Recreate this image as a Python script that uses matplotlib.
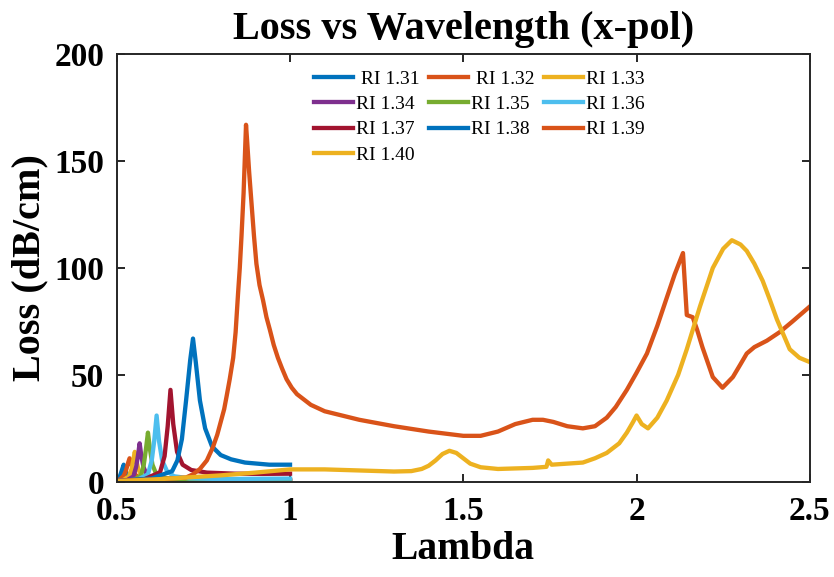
import matplotlib.pyplot as plt

plt.rcParams['font.family'] = ['Liberation Serif', 'DejaVu Serif']

colors = ['#0072BD', '#D95319', '#EDB120', '#7E2F8E', '#77AC30', '#4DBEEE', '#A2142F',
          '#0072BD', '#D95319', '#EDB120']
labels = [' RI 1.31', ' RI 1.32', 'RI 1.33', 'RI 1.34', 'RI 1.35', 'RI 1.36', 'RI 1.37',
          'RI 1.38', 'RI 1.39', 'RI 1.40']

# wavelength (um) and confinement loss (dB/cm) for each analyte index
lam_131 = [0.50, 0.505, 0.51, 0.515, 0.52, 0.525, 0.53, 0.54, 0.56, 0.60, 0.70, 0.80, 0.90, 1.00]
loss_131 = [0.8, 1.5, 3.0, 5.5, 8.0, 5.5, 3.2, 1.8, 1.0, 0.6, 0.4, 0.3, 0.3, 0.3]

lam_132 = [0.50, 0.51, 0.52, 0.527, 0.533, 0.537, 0.541, 0.547, 0.555, 0.57, 0.60, 0.70, 0.85, 1.00]
loss_132 = [0.5, 1.2, 2.8, 5.5, 9.0, 11.0, 9.0, 5.5, 3.0, 1.6, 0.9, 0.6, 0.5, 0.5]

lam_133 = [0.50, 0.52, 0.535, 0.543, 0.548, 0.552, 0.556, 0.562, 0.57, 0.585, 0.62, 0.70, 0.85, 1.00]
loss_133 = [0.3, 0.9, 2.5, 6.0, 10.5, 14.0, 10.5, 6.0, 3.2, 1.7, 0.9, 0.6, 0.5, 0.5]

lam_134 = [0.50, 0.53, 0.548, 0.556, 0.561, 0.566, 0.571, 0.577, 0.586, 0.60, 0.64, 0.72, 0.85, 1.00]
loss_134 = [0.3, 0.8, 2.5, 7.0, 12.0, 18.0, 12.0, 7.0, 3.5, 1.8, 1.0, 0.7, 0.7, 0.8]

lam_135 = [0.50, 0.55, 0.57, 0.578, 0.584, 0.59, 0.596, 0.603, 0.613, 0.63, 0.67, 0.75, 0.88, 1.00]
loss_135 = [0.3, 0.9, 3.0, 8.0, 15.0, 23.0, 15.0, 8.0, 4.0, 2.0, 1.2, 0.9, 0.9, 1.0]

lam_136 = [0.50, 0.56, 0.59, 0.601, 0.608, 0.615, 0.622, 0.631, 0.645, 0.665, 0.71, 0.80, 0.90, 1.00]
loss_136 = [0.3, 1.0, 3.5, 10.0, 19.0, 31.0, 19.0, 10.0, 5.0, 2.6, 1.6, 1.3, 1.4, 1.5]

lam_137 = [0.50, 0.58, 0.625, 0.638, 0.647, 0.655, 0.663, 0.674, 0.69, 0.715, 0.76, 0.84, 0.92, 1.00]
loss_137 = [0.3, 1.2, 4.5, 12.0, 26.0, 43.0, 27.0, 14.0, 8.0, 5.5, 4.3, 3.8, 3.7, 3.8]

lam_138 = [0.50, 0.60, 0.66, 0.675, 0.688, 0.70, 0.712, 0.72, 0.728, 0.74, 0.755, 0.775, 0.80,
           0.83, 0.87, 0.94, 1.00]
loss_138 = [0.4, 1.5, 5.0, 10.0, 20.0, 38.0, 57.0, 67.0, 56.0, 38.0, 25.0, 16.5, 12.5,
            10.5, 9.0, 8.0, 8.0]

lam_139 = [0.50, 0.60, 0.70, 0.72, 0.74, 0.76, 0.777, 0.79, 0.80, 0.81, 0.817, 0.826, 0.836,
           0.843, 0.85, 0.855, 0.86, 0.866, 0.873, 0.876, 0.882, 0.889, 0.896, 0.903, 0.912,
           0.922, 0.932, 0.942, 0.953, 0.965, 0.977, 0.99, 1.005, 1.02, 1.04, 1.06, 1.08,
           1.10, 1.15, 1.20, 1.30, 1.40, 1.50, 1.55, 1.60, 1.65, 1.70, 1.73, 1.76, 1.80,
           1.845, 1.88, 1.914, 1.94, 1.972, 2.00, 2.03, 2.06, 2.087, 2.11, 2.134, 2.145,
           2.162, 2.175, 2.19, 2.22, 2.248, 2.278, 2.30, 2.318, 2.34, 2.376, 2.413, 2.45, 2.50]
loss_139 = [0.5, 1.0, 2.0, 3.5, 6.0, 10.0, 16.0, 22.0, 28.0, 34.0, 40.0, 48.0, 58.0,
            70.0, 88.0, 100.0, 115.0, 135.0, 167.0, 160.0, 145.0, 130.0, 115.0, 102.0, 92.0,
            85.0, 77.0, 71.0, 64.0, 58.0, 53.0, 48.0, 44.0, 41.0, 38.5, 36.0, 34.5,
            33.0, 31.0, 29.0, 26.0, 23.5, 21.5, 21.5, 23.5, 27.0, 29.0, 29.0, 28.0, 26.0,
            25.0, 26.0, 30.0, 35.0, 43.0, 51.0, 60.0, 73.0, 86.0, 97.0, 107.0, 78.0,
            77.0, 71.0, 63.0, 49.0, 44.0, 49.0, 55.0, 60.0, 63.0, 66.0, 70.0, 75.0, 82.0]

lam_140 = [0.50, 0.60, 0.70, 0.80, 0.90, 1.00, 1.10, 1.20, 1.30, 1.35, 1.38, 1.40, 1.42, 1.44,
           1.46, 1.48, 1.50, 1.52, 1.55, 1.60, 1.70, 1.74, 1.745, 1.755, 1.80, 1.845, 1.88,
           1.914, 1.95, 1.972, 1.99, 2.00, 2.015, 2.033, 2.06, 2.087, 2.12, 2.145, 2.183,
           2.22, 2.25, 2.275, 2.30, 2.318, 2.34, 2.364, 2.385, 2.405, 2.442, 2.47, 2.50]
loss_140 = [0.3, 1.0, 2.0, 3.0, 4.3, 5.8, 5.8, 5.3, 4.8, 5.0, 6.0, 7.5, 10.0, 13.0,
            14.5, 13.5, 11.0, 8.5, 6.8, 6.0, 6.5, 7.0, 10.0, 8.0, 8.5, 9.0, 11.0,
            13.5, 18.0, 23.0, 28.0, 31.0, 27.0, 25.0, 30.0, 38.0, 50.0, 62.0, 82.0,
            100.0, 109.0, 113.0, 111.0, 108.0, 102.0, 94.0, 85.0, 76.0, 62.0, 58.0, 56.0]

lams = [lam_131, lam_132, lam_133, lam_134, lam_135, lam_136, lam_137, lam_138, lam_139, lam_140]
losses = [loss_131, loss_132, loss_133, loss_134, loss_135, loss_136, loss_137, loss_138,
          loss_139, loss_140]

fig = plt.figure(figsize=(8.34, 5.77), dpi=100)
ax = fig.add_axes([0.140, 0.165, 0.831, 0.741])

handles = []
for x, y, c, lab in zip(lams, losses, colors, labels):
    h, = ax.plot(x, y, color=c, lw=3.1, label=lab, solid_joinstyle='round')
    handles.append(h)

ax.set_xlim(0.5, 2.5)
ax.set_ylim(0, 200)
ax.set_xticks([0.5, 1, 1.5, 2, 2.5])
ax.set_xticklabels(['0.5', '1', '1.5', '2', '2.5'])
ax.set_yticks([0, 50, 100, 150, 200])

for s in ax.spines.values():
    s.set_linewidth(1.4)
    s.set_color('#262626')
ax.tick_params(direction='in', length=6, width=1.4, top=True, right=True, color='#262626',
               labelsize=24)
ax.tick_params(axis='x', pad=10)
ax.tick_params(axis='y', pad=9)
for t in ax.get_xticklabels() + ax.get_yticklabels():
    t.set_fontweight('bold')

ax.set_title('Loss vs Wavelength (x-pol)', fontsize=29, fontweight='bold', pad=11)
ax.set_xlabel('Lambda', fontsize=28.5, fontweight='bold', labelpad=3)
ax.set_ylabel('Loss (dB/cm)', fontsize=29, fontweight='bold', labelpad=4)

# matplotlib fills legend columns first, so reorder to get row-wise entries
order = [0, 3, 6, 9, 1, 4, 7, 2, 5, 8]
ax.legend([handles[i] for i in order], [labels[i] for i in order], ncol=3, frameon=False,
          fontsize=14, loc='upper left', bbox_to_anchor=(0.265, 0.995), handlelength=2.0,
          handletextpad=0.15, columnspacing=0.5, labelspacing=0.4, borderpad=0.2)

fig.savefig('out.png', dpi=100)
